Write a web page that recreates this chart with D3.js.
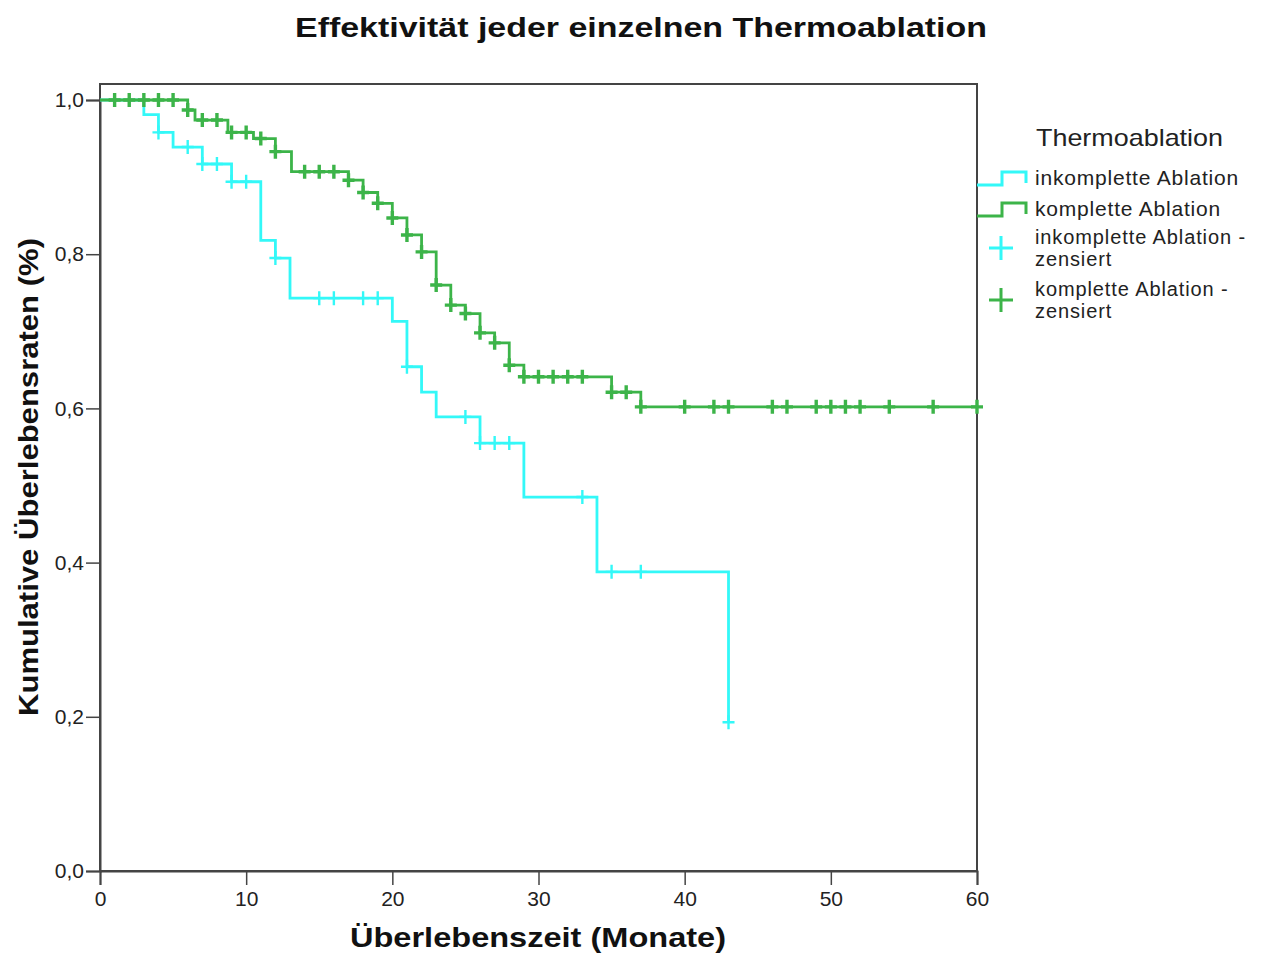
<!DOCTYPE html>
<html>
<head>
<meta charset="utf-8">
<script src="https://cdn.jsdelivr.net/npm/d3@7"></script>
<style>
  body { margin: 0; background: #fff; }
  text { font-family: "Liberation Sans", Arial, sans-serif; }
</style>
</head>
<body>
<svg id="chart" width="1263" height="956"></svg>
<script>
// Kaplan-Meier steps (months, survival)
var inkTimes = [0, 3, 4, 5, 7, 9, 11, 12, 13, 20, 21, 22, 23, 26, 29, 34, 43];
var inkSurv = [1, 0.981, 0.958, 0.939, 0.917, 0.894, 0.818, 0.795, 0.743, 0.713, 0.654, 0.621, 0.589, 0.555, 0.485, 0.388, 0.193];
var inkEnd = 43;
var inkCensored = [4, 6, 7, 8, 9, 10, 12, 15, 16, 18, 19, 21, 25, 26, 27, 28, 33, 35, 37, 43];

var kompTimes = [0, 6, 6.5, 8.75, 10.5, 12, 13.1, 17, 18, 19, 20, 21, 22, 23, 24, 25, 26, 27, 28, 29, 35, 37];
var kompSurv = [1, 0.987, 0.974, 0.958, 0.950, 0.933, 0.907, 0.896, 0.880, 0.866, 0.847, 0.825, 0.803, 0.760, 0.734, 0.723, 0.698, 0.685, 0.656, 0.641, 0.621, 0.602];
var kompEnd = 60;
var kompCensored = [1, 2, 3, 4, 5, 6, 7, 8, 9, 10, 11, 12, 14, 15, 16, 17, 18, 19, 20, 21, 22, 23, 24, 25, 26, 27, 28, 29, 30, 31, 32, 33, 35, 36, 37, 40, 42, 43, 46, 47, 49, 50, 51, 52, 54, 57, 60];

var xTicks = [0, 10, 20, 30, 40, 50, 60];
var yTicks = [0, 0.2, 0.4, 0.6, 0.8, 1.0];

var cyan = '#33f8f8', green = '#3cb449';

var svg = d3.select('#chart');
var pLeft = 100, pRight = 977, pTop = 84, pBottom = 871;

var x = d3.scaleLinear().domain([0, 60]).range([pLeft, pRight]);
var y = d3.scaleLinear().domain([0, 1.0]).range([pBottom, 100]);

// frame
svg.append('rect')
    .attr('x', pLeft).attr('y', pTop)
    .attr('width', pRight - pLeft).attr('height', pBottom - pTop)
    .attr('fill', '#fff').attr('stroke', '#444').attr('stroke-width', 2);

var fmt = function(d) { return d3.format('.1f')(d).replace('.', ','); };

var yAxis = svg.append('g')
    .attr('transform', 'translate(' + pLeft + ',0)')
    .call(d3.axisLeft(y).tickValues(yTicks).tickSize(14).tickPadding(2).tickFormat(fmt));
var xAxis = svg.append('g')
    .attr('transform', 'translate(0,' + pBottom + ')')
    .call(d3.axisBottom(x).tickValues(xTicks).tickSize(14).tickPadding(6));
[yAxis, xAxis].forEach(function(g) {
  g.select('.domain').attr('stroke', '#444').attr('stroke-width', 2);
  g.selectAll('.tick line').attr('stroke', '#444').attr('stroke-width', 1.5);
  g.selectAll('.tick text').attr('fill', '#222').style('font-size', '21px')
      .style('font-family', '"Liberation Sans", Arial, sans-serif');
});

function stepPoints(times, surv, end) {
  var pts = times.map(function(t, i) { return [t, surv[i]]; });
  pts.push([end, surv[surv.length - 1]]);
  return pts;
}
function survAt(times, surv, t) {
  var v = surv[0];
  times.forEach(function(tt, i) { if (tt <= t) v = surv[i]; });
  return v;
}

var line = d3.line()
    .x(function(d) { return x(d[0]); })
    .y(function(d) { return y(d[1]); })
    .curve(d3.curveStepAfter);

var groups = [
  {times: inkTimes, surv: inkSurv, end: inkEnd, cens: inkCensored, color: cyan, cw: 2.4},
  {times: kompTimes, surv: kompSurv, end: kompEnd, cens: kompCensored, color: green, cw: 3.4}
];

groups.forEach(function(g) {
  svg.append('path')
      .datum(stepPoints(g.times, g.surv, g.end))
      .attr('d', line)
      .attr('fill', 'none')
      .attr('stroke', g.color)
      .attr('stroke-width', 2.8);
});

groups.forEach(function(g) {
  svg.append('g').selectAll('path')
      .data(g.cens)
    .enter().append('path')
      .attr('d', function(t) {
        var cx = x(t), cy = y(survAt(g.times, g.surv, t));
        return 'M' + (cx - 6) + ',' + cy + 'H' + (cx + 6) + 'M' + cx + ',' + (cy - 7) + 'V' + (cy + 7);
      })
      .attr('stroke', g.color)
      .attr('stroke-width', g.cw)
      .attr('fill', 'none');
});

// titles
svg.append('text')
    .attr('x', 641).attr('y', 37)
    .attr('text-anchor', 'middle')
    .attr('font-weight', 'bold').attr('font-size', 27)
    .attr('textLength', 692).attr('lengthAdjust', 'spacingAndGlyphs')
    .attr('fill', '#111')
    .text('Effektivität jeder einzelnen Thermoablation');

svg.append('text')
    .attr('x', 538).attr('y', 947)
    .attr('text-anchor', 'middle')
    .attr('font-weight', 'bold').attr('font-size', 27)
    .attr('textLength', 376).attr('lengthAdjust', 'spacingAndGlyphs')
    .attr('fill', '#111')
    .text('Überlebenszeit (Monate)');

svg.append('text')
    .attr('transform', 'translate(38,477) rotate(-90)')
    .attr('text-anchor', 'middle')
    .attr('font-weight', 'bold').attr('font-size', 27)
    .attr('textLength', 478).attr('lengthAdjust', 'spacingAndGlyphs')
    .attr('fill', '#111')
    .text('Kumulative Überlebensraten (%)');

// legend
var legend = svg.append('g');
legend.append('text')
    .attr('x', 1036).attr('y', 146)
    .attr('font-size', 24).attr('fill', '#222')
    .attr('textLength', 187).attr('lengthAdjust', 'spacingAndGlyphs')
    .text('Thermoablation');

var legendLines = [
  {label: 'inkomplette Ablation', color: cyan, y0: 185},
  {label: 'komplette Ablation', color: green, y0: 216}
];
legendLines.forEach(function(d) {
  legend.append('path')
      .attr('d', 'M977,' + d.y0 + 'H1002V' + (d.y0 - 13) + 'H1026V' + (d.y0 - 2))
      .attr('fill', 'none').attr('stroke', d.color).attr('stroke-width', 3);
  legend.append('text')
      .attr('x', 1035).attr('y', d.y0)
      .attr('font-size', 21).attr('letter-spacing', 0.8).attr('fill', '#222')
      .text(d.label);
});

var legendMarks = [
  {lines: ['inkomplette Ablation -', 'zensiert'], color: cyan, cy: 248, ty: 245},
  {lines: ['komplette Ablation -', 'zensiert'], color: green, cy: 300, ty: 297}
];
legendMarks.forEach(function(d) {
  legend.append('path')
      .attr('d', 'M989,' + d.cy + 'H1013M1001,' + (d.cy - 12) + 'V' + (d.cy + 12))
      .attr('stroke', d.color).attr('stroke-width', 3);
  d.lines.forEach(function(s, i) {
    legend.append('text')
        .attr('x', 1035).attr('y', d.ty - 1 + i * 22)
        .attr('font-size', 20).attr('letter-spacing', 0.9).attr('fill', '#222')
        .text(s);
  });
});
</script>
</body>
</html>
